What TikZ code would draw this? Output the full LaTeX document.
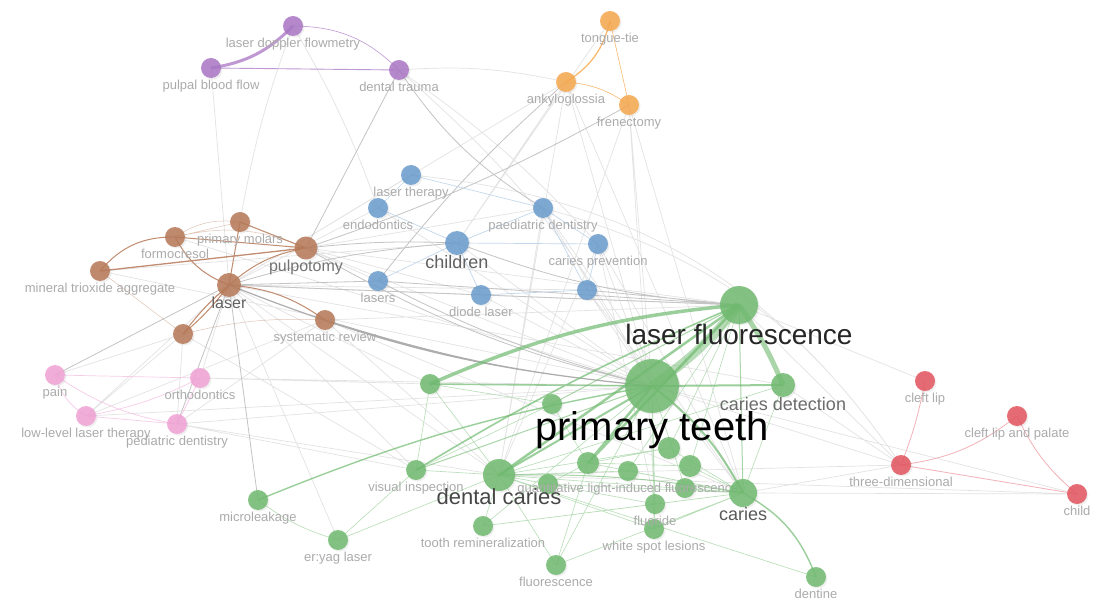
\documentclass[tikz,border=0pt]{standalone}
\usepackage{fontspec}
\setmainfont{Liberation Sans}
\usetikzlibrary{backgrounds,shadows}
\definecolor{vpurple}{RGB}{170,118,196}
\definecolor{vorange}{RGB}{246,168,78}
\definecolor{vblue}{RGB}{106,156,204}
\definecolor{vbrown}{RGB}{182,120,86}
\definecolor{vpink}{RGB}{241,162,213}
\definecolor{vgreen}{RGB}{112,186,112}
\definecolor{vred}{RGB}{227,84,94}
\begin{document}
\begin{tikzpicture}[x=1pt, y=-1pt,
    kw/.style={circle, inner sep=0pt, minimum size=20pt, fill opacity=0.85,
        drop shadow={shadow xshift=1.5pt, shadow yshift=-1.5pt, opacity=0.12}},
    kwpurple/.style={kw, fill=vpurple},
    kworange/.style={kw, fill=vorange},
    kwblue/.style={kw, fill=vblue},
    kwbrown/.style={kw, fill=vbrown},
    kwpink/.style={kw, fill=vpink},
    kwgreen/.style={kw, fill=vgreen},
    kwred/.style={kw, fill=vred},
    lbl/.style={font=\fontsize{13}{13}\selectfont, text=black!33, inner sep=0pt, yshift=-2pt},
    lblm/.style={font=\fontsize{16}{16}\selectfont, text=black!55, inner sep=0pt},
    lbll/.style={font=\fontsize{18}{18}\selectfont, text=black!62, inner sep=0pt},
    lblxl/.style={font=\fontsize{22}{22}\selectfont, text=black!72, inner sep=0pt},
    lblxxl/.style={font=\fontsize{28}{28}\selectfont, text=black!85, inner sep=0pt},
    lblmax/.style={font=\fontsize{40}{40}\selectfont, text=black, inner sep=0pt},
    e/.style={draw=black!11, line width=0.7pt},
    eg/.style={draw=black!23, line width=0.8pt},
    egg/.style={draw=black!32, line width=1.2pt},
    ep/.style={draw=vpurple!75, line width=0.9pt},
    eo/.style={draw=vorange!80, line width=0.9pt},
    eb/.style={draw=vblue!40, line width=0.7pt},
    ebr/.style={draw=vbrown!85, line width=1pt},
    epk/.style={draw=vpink!55, line width=0.7pt},
    er/.style={draw=vred!45, line width=0.8pt},
    egr/.style={draw=vgreen, draw opacity=0.8},
    egrl/.style={draw=vgreen!50, line width=0.6pt}]

\useasboundingbox (0,0) rectangle (1105,601);

% purple cluster
\node[kwpurple, label={[lbl]below:laser doppler flowmetry}] (ldf) at (293,26) {};
\node[kwpurple, label={[lbl]below:pulpal blood flow}] (pbf) at (211,68) {};
\node[kwpurple, label={[lbl]below:dental trauma}] (dtrauma) at (399,70) {};

% orange cluster
\node[kworange, label={[lbl]below:tongue-tie}] (tongue) at (610,21) {};
\node[kworange, label={[lbl]below:ankyloglossia}] (ankylo) at (566,82) {};
\node[kworange, label={[lbl]below:frenectomy}] (frenect) at (629,105) {};

% blue cluster
\node[kwblue, label={[lbl]below:laser therapy}] (lasther) at (411,175) {};
\node[kwblue, label={[lbl]below:endodontics}] (endo) at (378,208) {};
\node[kwblue, label={[lbl]below:paediatric dentistry}] (paed) at (543,208) {};
\node[kwblue, minimum size=24pt, label={[lbll]below:children}] (children) at (457,243) {};
\node[kwblue, label={[lbl]below:caries prevention}] (carprev) at (598,244) {};
\node[kwblue, label={[lbl]below:lasers}] (lasers) at (378,281) {};
\node[kwblue, label={[lbl]below:diode laser}] (diode) at (481,295) {};
\node[kwblue] (bA) at (587,290) {};

% brown cluster
\node[kwbrown, label={[lbl]below:primary molars}] (primmol) at (240,222) {};
\node[kwbrown, label={[lbl]below:formocresol}] (formo) at (175,237) {};
\node[kwbrown, minimum size=23pt, label={[lblm]below:pulpotomy}] (pulpo) at (306,248) {};
\node[kwbrown, label={[lbl]below:mineral trioxide aggregate}] (mta) at (100,271) {};
\node[kwbrown, minimum size=24pt, label={[lblm, text=black!62]below:laser}] (laser) at (229,285) {};
\node[kwbrown, label={[lbl]below:systematic review}] (sysrev) at (325,320) {};
\node[kwbrown] (brA) at (183,334) {};

% pink cluster
\node[kwpink, label={[lbl]below:pain}] (pain) at (55,375) {};
\node[kwpink, label={[lbl]below:orthodontics}] (ortho) at (200,378) {};
\node[kwpink, label={[lbl]below:low-level laser therapy}] (lllt) at (86,416) {};
\node[kwpink, label={[lbl]below:pediatric dentistry}] (pedident) at (177,424) {};

% red cluster
\node[kwred, label={[lbl]below:cleft lip}] (cleft) at (925,381) {};
\node[kwred, label={[lbl]below:cleft lip and palate}] (clp) at (1017,416) {};
\node[kwred, label={[lbl]below:three-dimensional}] (threed) at (901,465) {};
\node[kwred, label={[lbl]below:child}] (child) at (1077,494) {};

% green cluster
\node[kwgreen] (gA) at (430,384) {};
\node[kwgreen] (gB) at (552,404) {};
\node[kwgreen, minimum size=22pt] (gC) at (588,463) {};
\node[kwgreen] (gD) at (548,484) {};
\node[kwgreen, minimum size=22pt] (gE) at (669,448) {};
\node[kwgreen, minimum size=22pt] (gF) at (690,466) {};
\node[kwgreen] (gG) at (685,488) {};
\node[kwgreen, label={[lbl]below:microleakage}] (micro) at (258,500) {};
\node[kwgreen, label={[lbl]below:er:yag laser}] (eryag) at (338,540) {};
\node[kwgreen, label={[lbl]below:visual inspection}] (visual) at (416,470) {};
\node[kwgreen, label={[lbl]below:tooth remineralization}] (remin) at (483,526) {};
\node[kwgreen, label={[lbl]below:fluorescence}] (fluor) at (556,565) {};
\node[kwgreen, label={[lbl]below:white spot lesions}] (wsl) at (654,529) {};
\node[kwgreen, label={[lbl]below:fluoride}] (fluoride) at (655,504) {};
\node[kwgreen, label={[lbl]below:quantitative light-induced fluorescence}] (qlf) at (628,471) {};
\node[kwgreen, label={[lbl]below:dentine}] (dentine) at (816,577) {};
\node[kwgreen, minimum size=28pt, label={[lbll, text=black!65]below:caries}] (caries) at (743,493) {};
\node[kwgreen, minimum size=32pt, label={[lblxl, yshift=3pt]below:dental caries}] (dentcar) at (499,475) {};
\node[kwgreen, minimum size=24pt, label={[lbll, text=black!58]below:caries detection}] (cardet) at (783,385) {};
\node[kwgreen, minimum size=38pt, label={[lblxxl]below:laser fluorescence}] (lasfl) at (739,305) {};
\node[kwgreen, minimum size=54pt, label={[lblmax, yshift=2pt]below:primary teeth}] (primt) at (652,386) {};

\begin{scope}[on background layer]
\fill[white] (0,0) rectangle (1105,601);
% faint links
\draw[e] (ldf.center) to[bend right=5] (primmol.center) (ldf.center) to[bend left=5] (endo.center)
    (dtrauma.center) to[bend left=8] (ankylo.center) (dtrauma.center) to[bend left=10] (primt.center)
    (dtrauma.center) to[bend left=6] (carprev.center) (lasther.center) -- (laser.center)
    (lasther.center) to[bend left=25] (threed.center) (endo.center) -- (laser.center)
    (endo.center) -- (primt.center) (tongue.center) -- (children.center)
    (ankylo.center) -- (children.center) (ankylo.center) -- (dentcar.center)
    (ankylo.center) -- (caries.center) (ankylo.center) -- (primt.center)
    (frenect.center) -- (primt.center) (frenect.center) -- (dentcar.center)
    (frenect.center) -- (caries.center) (frenect.center) -- (fluoride.center)
    (paed.center) -- (primt.center) (paed.center) -- (dentcar.center)
    (paed.center) to[bend left=20] (threed.center) (paed.center) -- (caries.center)
    (carprev.center) -- (primt.center) (carprev.center) -- (dentcar.center)
    (carprev.center) -- (fluoride.center) (carprev.center) -- (caries.center)
    (children.center) -- (primt.center) (children.center) -- (mta.center)
    (diode.center) -- (lasfl.center) (diode.center) -- (primt.center)
    (bA.center) -- (primt.center) (bA.center) -- (caries.center)
    (pulpo.center) -- (lasers.center) (pulpo.center) -- (diode.center)
    (pulpo.center) -- (lasfl.center) (pulpo.center) -- (paed.center)
    (laser.center) -- (diode.center) (laser.center) -- (bA.center)
    (laser.center) -- (cardet.center) (laser.center) -- (lllt.center)
    (laser.center) -- (ortho.center) (laser.center) -- (visual.center)
    (laser.center) -- (dentcar.center) (laser.center) -- (gA.center)
    (laser.center) -- (eryag.center) (laser.center) -- (ankylo.center)
    (sysrev.center) -- (lasfl.center) (sysrev.center) -- (dentcar.center)
    (sysrev.center) -- (caries.center) (sysrev.center) -- (pedident.center)
    (sysrev.center) -- (lllt.center) (formo.center) -- (primt.center)
    (mta.center) -- (primt.center) (primmol.center) -- (primt.center)
    (brA.center) -- (pedident.center) (brA.center) -- (pain.center)
    (brA.center) -- (lllt.center) (brA.center) -- (visual.center)
    (pedident.center) -- (primt.center) (pedident.center) -- (visual.center)
    (pedident.center) -- (dentcar.center) (lllt.center) -- (primt.center)
    (ortho.center) -- (primt.center) (ortho.center) -- (gA.center)
    (threed.center) -- (primt.center) (threed.center) -- (lasfl.center)
    (threed.center) -- (dentcar.center) (threed.center) -- (caries.center)
    (threed.center) -- (cardet.center) (child.center) -- (dentcar.center)
    (child.center) -- (primt.center) (child.center) -- (caries.center)
    (cleft.center) -- (lasfl.center) (pbf.center) -- (laser.center);
% grey links
\draw[eg] (dtrauma.center) -- (pulpo.center)
    (dtrauma.center) to[bend right=12] (paed.center) (ankylo.center) to[bend right=5] (lasers.center)
    (frenect.center) to[bend left=5] (pulpo.center) (laser.center) -- (pain.center)
    (laser.center) -- (pedident.center) (laser.center) -- (micro.center)
    (laser.center) to[bend left=6] (children.center) (pulpo.center) to[bend left=4] (children.center)
    (laser.center) -- (lasers.center) (lasers.center) -- (lasfl.center)
    (bA.center) -- (lasfl.center) (children.center) to[bend right=8] (lasfl.center)
    (laser.center) -- (lasfl.center) (lasers.center) to[bend right=6] (primt.center)
    (pulpo.center) to[bend right=8] (primt.center);
\draw[egg] (laser.center) to[bend right=8] (primt.center)
    (sysrev.center) to[bend right=6] (primt.center);
% purple and orange links
\draw[ep, line width=3pt] (pbf.center) to[bend right=18] (ldf.center);
\draw[ep] (pbf.center) -- (dtrauma.center);
\draw[ep, line width=0.6pt] (ldf.center) to[bend left=22] (dtrauma.center);
\draw[eo, line width=1.3pt] (ankylo.center) to[bend right=22] (tongue.center);
\draw[eo, line width=0.6pt] (tongue.center) -- (frenect.center)
    (ankylo.center) to[bend left=15] (frenect.center);
% blue links
\draw[eb] (lasther.center) -- (endo.center) (lasther.center) -- (paed.center)
    (children.center) -- (lasers.center) (children.center) -- (diode.center)
    (children.center) -- (paed.center) (children.center) -- (carprev.center)
    (children.center) -- (endo.center) (paed.center) -- (bA.center)
    (carprev.center) -- (bA.center) (paed.center) -- (carprev.center)
    (diode.center) -- (bA.center);
% brown links
\draw[ebr] (mta.center) to[bend left=25] (formo.center)
    (formo.center) -- (pulpo.center) (primmol.center) -- (pulpo.center)
    (primmol.center) -- (laser.center) (formo.center) to[bend right=20] (laser.center)
    (laser.center) to[bend left=15] (pulpo.center) (laser.center) to[bend left=15] (sysrev.center)
    (laser.center) to[bend right=6] (brA.center) (laser.center) to[bend left=6] (brA.center);
\draw[ebr, line width=1.3pt] (mta.center) -- (pulpo.center);
\draw[ebr, line width=0.5pt, draw opacity=0.5] (formo.center) to[bend left=20] (primmol.center)
    (formo.center) to[bend left=18] (pulpo.center) (mta.center) -- (brA.center)
    (brA.center) to[bend left=8] (sysrev.center) (primmol.center) -- (formo.center);
% pink links
\draw[epk] (pain.center) -- (ortho.center) (pain.center) to[bend right=20] (lllt.center)
    (lllt.center) -- (pedident.center) (lllt.center) to[bend right=8] (ortho.center)
    (ortho.center) -- (pedident.center) (pain.center) to[bend right=12] (pedident.center);
% red links
\draw[er] (cleft.center) to[bend left=5] (threed.center)
    (threed.center) to[bend right=15] (clp.center)
    (clp.center) to[bend right=12] (child.center)
    (threed.center) -- (child.center);
% green links
\draw[egrl] (dentcar.center) -- (qlf.center) (dentcar.center) -- (remin.center)
    (dentcar.center) -- (fluor.center) (dentcar.center) -- (fluoride.center)
    (dentcar.center) -- (caries.center) (dentcar.center) -- (wsl.center)
    (dentcar.center) -- (gD.center) (dentcar.center) -- (gE.center)
    (visual.center) -- (dentcar.center) (visual.center) -- (gA.center)
    (visual.center) -- (eryag.center) (micro.center) to[bend right=10] (eryag.center)
    (remin.center) -- (fluoride.center) (remin.center) -- (caries.center)
    (fluor.center) -- (caries.center) (fluor.center) -- (gC.center)
    (qlf.center) -- (caries.center) (fluoride.center) -- (caries.center)
    (wsl.center) -- (caries.center) (wsl.center) -- (fluoride.center)
    (gE.center) -- (caries.center) (gF.center) -- (caries.center)
    (gG.center) -- (caries.center) (gD.center) -- (caries.center)
    (gC.center) -- (caries.center) (gC.center) -- (gE.center)
    (gC.center) -- (gF.center) (gD.center) -- (gC.center)
    (gB.center) -- (gC.center) (gB.center) -- (visual.center)
    (gA.center) -- (gB.center) (gA.center) -- (dentcar.center)
    (dentine.center) -- (dentcar.center) (remin.center) -- (primt.center)
    (fluor.center) -- (primt.center) (wsl.center) -- (primt.center)
    (fluoride.center) -- (primt.center) (gG.center) -- (primt.center)
    (gE.center) -- (lasfl.center) (gF.center) -- (lasfl.center)
    (qlf.center) -- (lasfl.center) (cardet.center) -- (dentcar.center)
    (cardet.center) -- (caries.center) (eryag.center) -- (dentcar.center);
\draw[egr, line width=9pt, draw opacity=0.5] (primt.center) to[bend right=8] (lasfl.center);
\draw[egr, line width=5pt, draw opacity=0.6] (lasfl.center) to[bend left=6] (cardet.center);
\draw[egr, line width=3.5pt, draw opacity=0.7] (gA.center) to[bend left=9] (lasfl.center);
\draw[egr, line width=2.5pt, draw opacity=0.7] (dentcar.center) -- (lasfl.center)
    (gC.center) -- (lasfl.center) (gC.center) -- (primt.center);
\draw[egr, line width=2pt, draw opacity=0.7] (primt.center) -- (cardet.center)
    (dentcar.center) -- (primt.center) (primt.center) to[bend left=12] (caries.center);
\draw[egr, line width=1.6pt, draw opacity=0.7] (gA.center) -- (primt.center)
    (visual.center) to[bend left=4] (lasfl.center);
\draw[egr, line width=1.4pt, draw opacity=0.7] (micro.center) to[bend left=6] (primt.center)
    (caries.center) to[bend left=20] (dentine.center);
\draw[egr, line width=1pt, draw opacity=0.6] (lasfl.center) -- (caries.center)
    (lasfl.center) -- (gB.center) (visual.center) -- (primt.center)
    (dentcar.center) to[bend left=5] (caries.center);
\end{scope}
\end{tikzpicture}
\end{document}
